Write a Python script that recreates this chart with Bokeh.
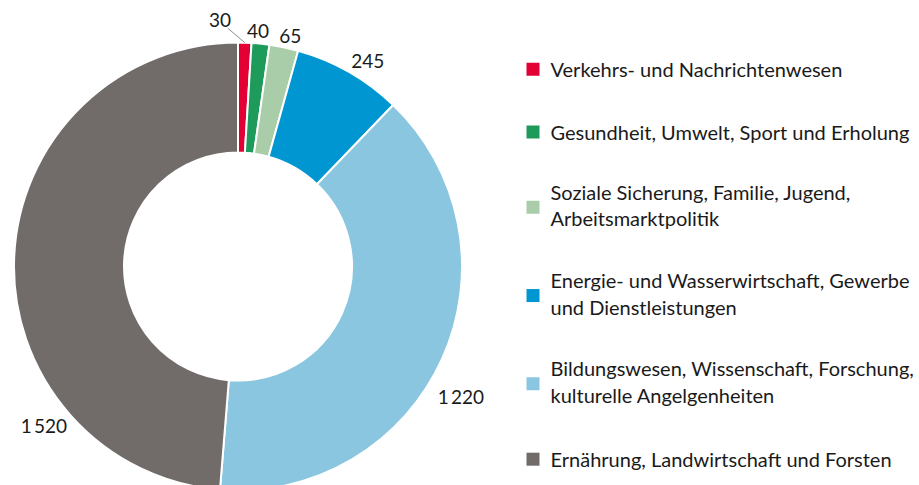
import numpy as np
from bokeh.plotting import figure
from bokeh.models import Range1d, ColumnDataSource
from bokeh.core.properties import value
from bokeh.embed import file_html
from bokeh.resources import INLINE

# ---- data ----
categories = [
    ["Verkehrs- und Nachrichtenwesen"],
    ["Gesundheit, Umwelt, Sport und Erholung"],
    ["Soziale Sicherung, Familie, Jugend,", "Arbeitsmarktpolitik"],
    ["Energie- und Wasserwirtschaft, Gewerbe", "und Dienstleistungen"],
    ["Bildungswesen, Wissenschaft, Forschung,", "kulturelle Angelgenheiten"],
    ["Ernährung, Landwirtschaft und Forsten"],
]
values = [30, 40, 65, 245, 1220, 1520]
value_labels = ["30", "40", "65", "245", "1\u2009220", "1\u2009520"]
colors = ["#E30035", "#1E9B5B", "#A9CDA9", "#0096D2", "#8AC6E0", "#716C69"]

# ---- layout / style ----
W, H = 919, 485
FONT = "Lato"
FS_LEG = "20px"
FS_LAB = "19px"
CX, CY = 237.5, 219.0        # donut centre (data units = image pixels, y up from 485)
R_OUT, R_IN = 224, 114
label_angle_offset = [-5.9, -0.9, 0.9, 2.5, 6.0, -41.6]   # degrees, clockwise
label_radius = [246.7, 236.8, 236.8, 243.3, 258.0, 250.8]

p = figure(width=W, height=H, output_backend="svg", toolbar_location=None,
           x_range=Range1d(0, W), y_range=Range1d(485 - H, 485),
           min_border=0, outline_line_color=None)
p.axis.visible = False
p.grid.visible = False
p.background_fill_color = "white"
p.border_fill_color = "white"

vals = np.array(values, dtype=float)
frac = vals / vals.sum()
cum_end = np.cumsum(frac)
cum_start = cum_end - frac
start_angle = np.pi / 2 - cum_end * 2 * np.pi
end_angle = np.pi / 2 - cum_start * 2 * np.pi

src = ColumnDataSource(dict(start=start_angle, end=end_angle, color=colors))
p.annular_wedge(x=CX, y=CY, inner_radius=R_IN, outer_radius=R_OUT,
                start_angle="start", end_angle="end", fill_color="color",
                line_color="white", line_width=2, source=src)

# value labels
mid_cw = (cum_start + frac / 2) * 360.0          # clockwise degrees from top
lab_ang = np.radians(mid_cw + np.array(label_angle_offset))
lr = np.array(label_radius)
lx = CX + lr * np.sin(lab_ang)
ly = CY + lr * np.cos(lab_ang)
p.text(x=lx, y=ly, text=value_labels, text_font=value(FONT), text_font_size=FS_LAB,
       text_align="center", text_baseline="middle", text_color="#1a1a1a")

# leader line for the smallest slice
m0 = np.radians(mid_cw[0])
p.line(x=[lx[0] + 8, CX + R_OUT * np.sin(m0)], y=[ly[0] - 8, CY + R_OUT * np.cos(m0)],
       line_color="#8c8c8c", line_width=1)

# legend
LINE_H, GAP = 25.5, 37.2
top_page = 68.7 - LINE_H / 2
sq_x, sq_y, tx, ty, tt = [], [], [], [], []
for cat in categories:
    h = LINE_H * len(cat)
    c_page = top_page + h / 2
    sq_x.append(532.5)
    sq_y.append(485 - c_page)
    if len(cat) == 1:
        mids = [c_page]
    else:
        mids = [c_page - 15.6, c_page + 11.0]
    for line, m in zip(cat, mids):
        tx.append(550)
        ty.append(485 - m)
        tt.append(line)
    top_page += h + GAP

p.rect(x=sq_x, y=sq_y, width=13, height=13, fill_color=colors, line_color=None)
p.text(x=tx, y=ty, text=tt, text_font=value(FONT), text_font_size=FS_LEG,
       text_align="left", text_baseline="middle", text_color="#1a1a1a")

open("out.html", "w").write(file_html(p, INLINE))
